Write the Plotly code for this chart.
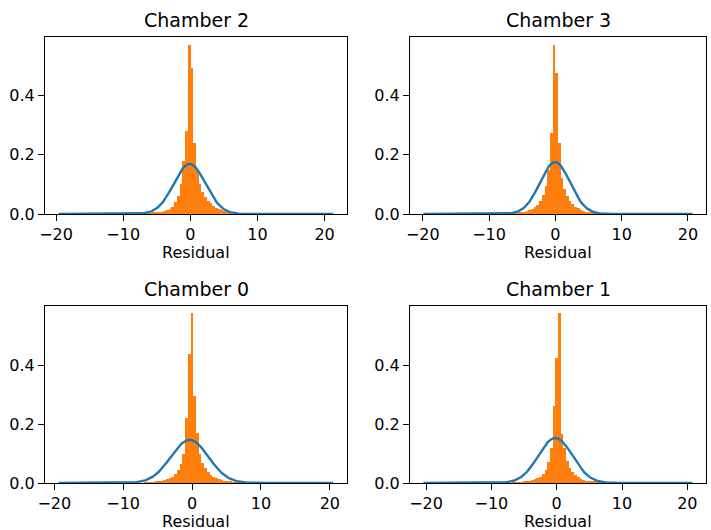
import numpy as np
import plotly.graph_objects as go
from plotly.subplots import make_subplots

# ---------------- data ----------------
chambers = ["Chamber 2", "Chamber 3", "Chamber 0", "Chamber 1"]
n_bins = 100

# residual range (histogram range / fitted-curve range) per chamber
range_lo = [-19.6, -19.9, -19.35, -20.4]
range_hi = [21.3, 20.7, 20.5, 20.8]

# index of first non-zero bin, and density heights from there on
first_bin = [30, 31, 31, 33]

heights_c2 = [0.001, 0.0015, 0.002, 0.003, 0.004, 0.005, 0.006, 0.008, 0.010, 0.013,
              0.017, 0.025, 0.040, 0.060, 0.100, 0.180, 0.279, 0.570, 0.494, 0.241,
              0.150, 0.100, 0.075, 0.058, 0.045, 0.037, 0.028, 0.021, 0.016, 0.012,
              0.009, 0.007, 0.005, 0.004, 0.003, 0.002, 0.0015, 0.001]
heights_c3 = [0.001, 0.0015, 0.002, 0.003, 0.004, 0.006, 0.008, 0.010, 0.013, 0.018,
              0.024, 0.032, 0.045, 0.065, 0.095, 0.150, 0.275, 0.570, 0.475, 0.241,
              0.123, 0.085, 0.060, 0.045, 0.033, 0.025, 0.019, 0.014, 0.010, 0.008,
              0.006, 0.004, 0.003, 0.002, 0.0015, 0.001]
heights_c0 = [0.001, 0.0015, 0.002, 0.003, 0.004, 0.005, 0.007, 0.009, 0.012, 0.016,
              0.022, 0.032, 0.045, 0.065, 0.100, 0.221, 0.436, 0.575, 0.295, 0.170,
              0.100, 0.068, 0.050, 0.038, 0.028, 0.021, 0.016, 0.012, 0.009, 0.007,
              0.005, 0.004, 0.003, 0.002, 0.0015, 0.001]
heights_c1 = [0.001, 0.0015, 0.002, 0.003, 0.004, 0.005, 0.007, 0.009, 0.012, 0.016,
              0.022, 0.032, 0.045, 0.070, 0.120, 0.260, 0.425, 0.575, 0.165, 0.120,
              0.075, 0.050, 0.037, 0.028, 0.020, 0.015, 0.011, 0.008, 0.006, 0.005,
              0.004, 0.003, 0.002, 0.0015, 0.001]
heights = [heights_c2, heights_c3, heights_c0, heights_c1]

# fitted normal curve parameters
fit_mu = [-0.1, -0.05, -0.35, -0.2]
fit_sigma = [2.36, 2.28, 2.73, 2.61]

x_ticks = [-20, -10, 0, 10, 20]
x_tick_text = ["\u221220", "\u221210", "0", "10", "20"]
y_ticks = [0.0, 0.2, 0.4]
y_tick_text = ["0.0", "0.2", "0.4"]
y_max = [0.598, 0.598, 0.600, 0.600]

# ---------------- figure ----------------
W, H = 711, 530
FONT = "DejaVu Sans"
BAR_C = "#ff7f0e"
LINE_C = "#1f77b4"

fig = make_subplots(rows=2, cols=2)

# axes boxes in pixels: (left, right, top, bottom)
boxes = [(45, 347, 37, 214), (410, 706, 37, 214),
         (45, 347, 306, 483), (410, 706, 306, 483)]
cells = [(1, 1), (1, 2), (2, 1), (2, 2)]

annotations = []
for i in range(4):
    r, c = cells[i]
    lo, hi = range_lo[i], range_hi[i]
    edges = np.linspace(lo, hi, n_bins + 1)
    w = edges[1] - edges[0]
    full = np.zeros(n_bins)
    h = np.array(heights[i])
    full[first_bin[i]:first_bin[i] + len(h)] = h
    centers = (edges[:-1] + edges[1:]) / 2
    fig.add_trace(go.Bar(x=centers, y=full, width=w, marker=dict(color=BAR_C, line=dict(width=0)),
                         showlegend=False, hoverinfo="skip"), row=r, col=c)
    xs = np.linspace(lo, hi, 300)
    ys = np.exp(-0.5 * ((xs - fit_mu[i]) / fit_sigma[i]) ** 2) / (fit_sigma[i] * np.sqrt(2 * np.pi))
    fig.add_trace(go.Scatter(x=xs, y=ys, mode="lines", line=dict(color=LINE_C, width=2.4),
                             showlegend=False, hoverinfo="skip"), row=r, col=c)

    L, R, T, B = boxes[i]
    span = hi - lo
    xa = dict(domain=[L / W, R / W], range=[lo - 0.05 * span, hi + 0.05 * span],
              tickvals=x_ticks, ticktext=x_tick_text, ticks="outside", ticklen=6, tickwidth=1.2,
              tickcolor="black", showline=True, linecolor="black", linewidth=1.2, mirror=True,
              showgrid=False, zeroline=False, automargin=False,
              tickfont=dict(family=FONT, size=16, color="black"))
    ya = dict(domain=[1 - B / H, 1 - T / H], range=[0, y_max[i]],
              tickvals=y_ticks, ticktext=y_tick_text, ticks="outside", ticklen=6, tickwidth=1.2,
              tickcolor="black", showline=True, linecolor="black", linewidth=1.2, mirror=True,
              showgrid=False, zeroline=False, automargin=False,
              tickfont=dict(family=FONT, size=16, color="black"))
    xname = "xaxis" if i == 0 else f"xaxis{i+1}"
    yname = "yaxis" if i == 0 else f"yaxis{i+1}"
    fig.layout[xname].update(xa)
    fig.layout[yname].update(ya)

    cx = (L + R) / 2 / W
    annotations.append(dict(text=chambers[i], x=cx, y=1 - T / H, xref="paper", yref="paper",
                            xanchor="center", yanchor="middle", yshift=17, showarrow=False,
                            font=dict(family=FONT, size=19, color="black")))
    annotations.append(dict(text="Residual", x=cx, y=1 - B / H, xref="paper", yref="paper",
                            xanchor="center", yanchor="middle", yshift=-38, showarrow=False,
                            font=dict(family=FONT, size=16, color="black")))

fig.update_layout(width=W, height=H, margin=dict(l=0, r=0, t=0, b=0, autoexpand=False),
                  paper_bgcolor="white", plot_bgcolor="white", bargap=0, barmode="overlay",
                  annotations=annotations, showlegend=False)

fig.write_html("out.html", config={"displayModeBar": False},
               post_script="document.body.style.margin='0';document.body.style.overflow='hidden';")
